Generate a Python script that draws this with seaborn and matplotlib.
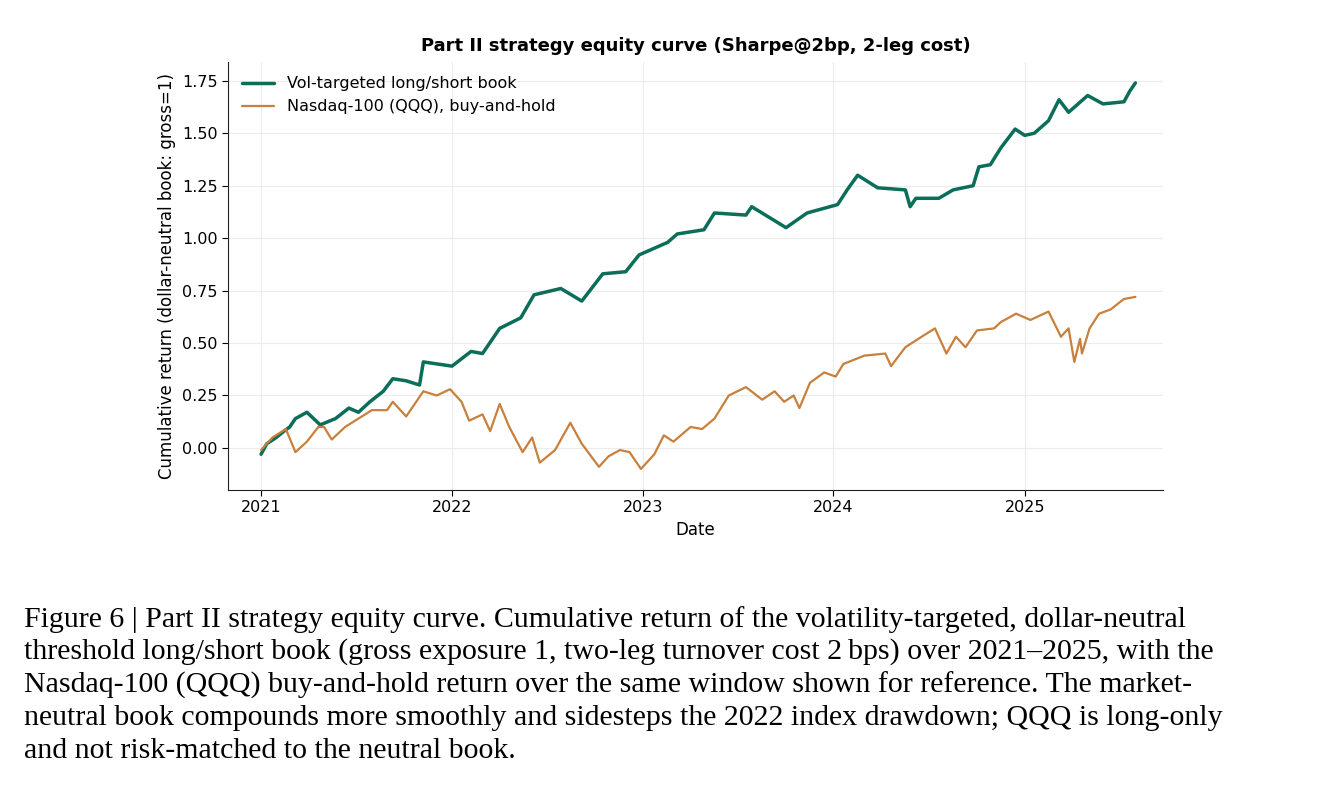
import matplotlib
matplotlib.use("Agg")
import matplotlib.pyplot as plt
import matplotlib.dates as mdates
import seaborn as sns
import pandas as pd

strat_t = [2021.00,2021.03,2021.08,2021.12,2021.15,2021.18,2021.24,2021.31,2021.39,2021.46,2021.51,2021.57,2021.64,2021.69,2021.76,2021.83,2021.85,2022.00,2022.10,2022.16,2022.25,2022.36,2022.43,2022.57,2022.68,2022.79,2022.91,2022.98,2023.13,2023.18,2023.32,2023.375,2023.54,2023.57,2023.75,2023.86,2024.02,2024.07,2024.125,2024.23,2024.375,2024.40,2024.43,2024.55,2024.625,2024.73,2024.76,2024.82,2024.875,2024.95,2025.00,2025.05,2025.125,2025.18,2025.23,2025.33,2025.41,2025.52,2025.55,2025.58]
strat_v = [-0.03,0.02,0.05,0.08,0.10,0.14,0.17,0.11,0.14,0.19,0.17,0.22,0.27,0.33,0.32,0.30,0.41,0.39,0.46,0.45,0.57,0.62,0.73,0.76,0.70,0.83,0.84,0.92,0.98,1.02,1.04,1.12,1.11,1.15,1.05,1.12,1.16,1.23,1.30,1.24,1.23,1.15,1.19,1.19,1.23,1.25,1.34,1.35,1.43,1.52,1.49,1.50,1.56,1.66,1.60,1.68,1.64,1.65,1.70,1.74]

qqq_t = [2021.00,2021.06,2021.13,2021.18,2021.24,2021.30,2021.33,2021.37,2021.44,2021.51,2021.58,2021.66,2021.69,2021.76,2021.85,2021.92,2021.99,2022.05,2022.09,2022.16,2022.20,2022.25,2022.30,2022.37,2022.42,2022.46,2022.54,2022.62,2022.68,2022.77,2022.82,2022.88,2022.93,2022.99,2023.06,2023.11,2023.16,2023.25,2023.31,2023.375,2023.45,2023.54,2023.625,2023.69,2023.74,2023.79,2023.82,2023.875,2023.95,2024.01,2024.05,2024.16,2024.27,2024.30,2024.375,2024.46,2024.53,2024.59,2024.64,2024.69,2024.75,2024.84,2024.875,2024.955,2025.03,2025.125,2025.19,2025.23,2025.26,2025.29,2025.30,2025.34,2025.39,2025.45,2025.52,2025.58]
qqq_v = [-0.01,0.05,0.09,-0.02,0.03,0.10,0.10,0.04,0.10,0.14,0.18,0.18,0.22,0.15,0.27,0.25,0.28,0.22,0.13,0.16,0.08,0.21,0.10,-0.02,0.05,-0.07,-0.01,0.12,0.02,-0.09,-0.04,-0.01,-0.02,-0.10,-0.03,0.06,0.03,0.10,0.09,0.14,0.25,0.29,0.23,0.27,0.22,0.25,0.19,0.31,0.36,0.34,0.40,0.44,0.45,0.39,0.48,0.53,0.57,0.45,0.53,0.48,0.56,0.57,0.60,0.64,0.61,0.65,0.53,0.57,0.41,0.52,0.45,0.57,0.64,0.66,0.71,0.72]

y_ticks = [0, 0.25, 0.5, 0.75, 1.0, 1.25, 1.5, 1.75]

caption_lines = [
    "Figure 6 | Part II strategy equity curve. Cumulative return of the volatility-targeted, dollar-neutral",
    "threshold long/short book (gross exposure 1, two-leg turnover cost 2\u2009bps) over 2021\u20132025, with the",
    "Nasdaq-100 (QQQ) buy-and-hold return over the same window shown for reference. The market-",
    "neutral book compounds more smoothly and sidesteps the 2022 index drawdown; QQQ is long-only",
    "and not risk-matched to the neutral book.",
]

base = pd.Timestamp("2021-01-01")
def to_dates(ts):
    return [base + pd.Timedelta(days=(t - 2021.0) * 365.25) for t in ts]

df1 = pd.DataFrame({"Date": to_dates(strat_t), "v": strat_v})
df2 = pd.DataFrame({"Date": to_dates(qqq_t), "v": qqq_v})

sns.set_style("white")
plt.rcParams['font.family'] = ['DejaVu Sans']
plt.rcParams['text.color'] = 'black'
plt.rcParams['axes.labelcolor'] = 'black'
plt.rcParams['xtick.color'] = 'black'
plt.rcParams['ytick.color'] = 'black'
fig = plt.figure(figsize=(13.22, 7.94), dpi=100)
ax = fig.add_axes([0.1725, 0.383, 0.707, 0.539])
green = "#0b6e58"
orange = "#c8803c"
sns.lineplot(data=df1, x="Date", y="v", ax=ax, color=green, lw=2.5, label="Vol-targeted long/short book")
sns.lineplot(data=df2, x="Date", y="v", ax=ax, color=orange, lw=1.6, label="Nasdaq-100 (QQQ), buy-and-hold")
ax.set_ylim(-0.2, 1.84)
ax.set_xlim(to_dates([2020.827])[0], to_dates([2025.723])[0])
ax.set_yticks(y_ticks)
ax.set_yticklabels([f"{v:.2f}" for v in y_ticks])
ax.xaxis.set_major_locator(mdates.YearLocator())
ax.xaxis.set_major_formatter(mdates.DateFormatter("%Y"))
ax.grid(True, color="#ececec", lw=0.8)
for s in ["top", "right"]:
    ax.spines[s].set_visible(False)
for s in ["left", "bottom"]:
    ax.spines[s].set_color("#222222")
ax.tick_params(axis="both", labelsize=11.5, length=4, left=True, bottom=True)
ax.set_xlabel("Date", fontsize=12, labelpad=4)
ax.set_ylabel("Cumulative return (dollar-neutral book: gross=1)", fontsize=12)
ax.set_title("Part II strategy equity curve (Sharpe@2bp, 2-leg cost)", fontsize=13, fontweight="bold", pad=8)
ax.legend(loc="upper left", frameon=False, fontsize=11.5)

ys = [620, 652, 685, 718, 751]
for line, y in zip(caption_lines, ys):
    fig.text(24 / 1322, 1 - y / 794, line, fontsize=21.5,
             family=["Liberation Serif", "DejaVu Serif"], va="center", ha="left")
fig.savefig("out.png", dpi=100)
